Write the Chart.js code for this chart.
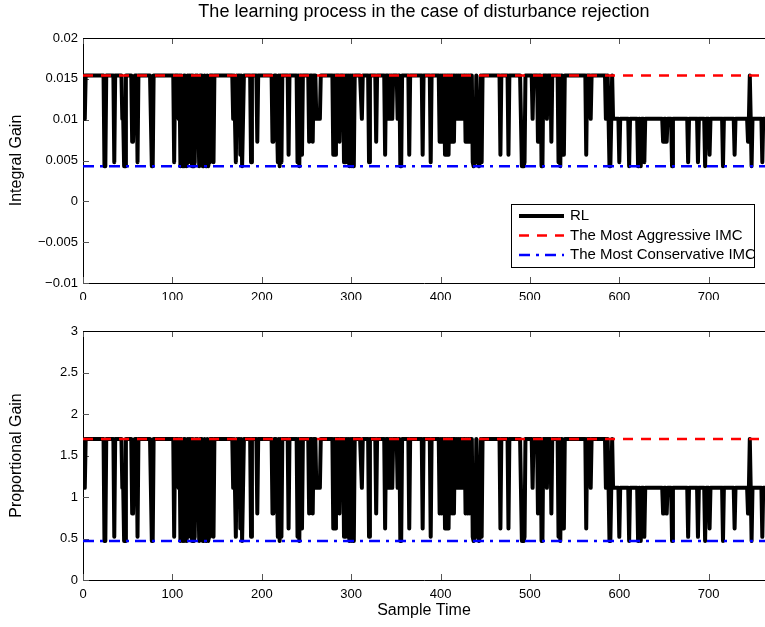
<!DOCTYPE html>
<html>
<head>
<meta charset="utf-8">
<title>The learning process in the case of disturbance rejection</title>
<script src="https://cdn.jsdelivr.net/npm/chart.js@4.4.0/dist/chart.umd.min.js"></script>
<style>
  html, body { margin: 0; padding: 0; background: #fff; }
  #wrap { position: relative; width: 765px; height: 627px; overflow: hidden; }
  canvas { position: absolute; left: 0; }
  #kiChart { top: 0; }
  #kpChart { top: 300px; }
</style>
</head>
<body>
<div id="wrap">
  <canvas id="kiChart" width="765" height="300"></canvas>
  <canvas id="kpChart" width="765" height="327"></canvas>
</div>
<script>
// sample axis
const sampleCount = 765;
const xMax = 763;
const xTicks = [0, 100, 200, 300, 400, 500, 600, 700];

// y ticks of both panels
const kiTicks = [-0.01, -0.005, 0, 0.005, 0.01, 0.015, 0.02];
const kiTickLabels = ['\u22120.01', '\u22120.005', '0', '0.005', '0.01', '0.015', '0.02'];
const kpTicks = [0, 0.5, 1, 1.5, 2, 2.5, 3];
const kpTickLabels = ['0', '0.5', '1', '1.5', '2', '2.5', '3'];

// gain levels the RL agent picks from (0 = most aggressive ... 5 = most conservative)
const kiLevels = [0.0154, 0.0101, 0.0073, 0.0057, 0.0048, 0.0043];
const kpLevels = [1.70, 1.11, 0.80, 0.62, 0.52, 0.47];

// resting level is 0 before this sample, 1 after it
const switchAt = 585;

// samples where the RL gain leaves its resting level, and the level it goes to
const dipAt = [
  1, 2, 24, 25, 35, 44, 45, 46, 47, 55, 56, 57, 61, 77, 78, 102,
  107, 109, 111, 112, 114, 115, 116, 118, 120, 122, 124, 125, 127, 129, 130, 132, 134, 135, 137, 138, 140, 141,
  146, 168, 171, 173, 176, 178, 179, 188,
  195, 212, 213, 218, 220, 222, 230, 240, 242, 245, 253, 257, 261, 262, 263, 264, 265,
  280, 282, 287, 292, 294, 296, 298, 300, 302, 303, 312, 320, 328, 338, 342, 344, 346, 352, 355, 356, 365, 380,
  389, 399, 401, 403, 405, 407, 409, 411, 413, 415, 417, 419, 421, 423, 425, 428, 430, 432,
  436, 437, 438, 439, 441, 442, 443, 444, 446, 467, 476, 491, 492, 493, 494,
  503, 509, 513, 514, 519, 524, 532, 534, 538, 563, 568,
  587, 589, 590, 592, 600, 611, 621, 624, 628, 649, 653, 659, 677, 688, 696, 701, 716, 729,
  744, 746, 748, 760
];
const dipLevel = [
  1, 1, 5, 5, 4, 1, 1, 5, 5, 2, 2, 2, 4, 5, 5, 4,
  1, 5, 4, 5, 5, 1, 5, 4, 1, 5, 5, 4, 1, 1, 5, 1, 5, 5, 4, 5, 5, 4,
  4, 1, 4, 1, 3, 5, 5, 4,
  2, 2, 2, 4, 5, 4, 3, 4, 5, 3, 2, 2, 1, 1, 1, 1, 1,
  3, 3, 2, 4, 4, 4, 5, 5, 5, 5, 1, 4, 2, 3, 1, 1, 1, 1, 5, 5, 3, 3,
  4, 2, 2, 2, 3, 3, 3, 2, 2, 2, 1, 1, 1, 1, 1, 2, 2, 2,
  4, 5, 4, 4, 1, 4, 5, 4, 4, 3, 3, 5, 5, 5, 4,
  1, 2, 5, 5, 1, 2, 4, 5, 3, 3, 1,
  0, 5, 5, 0, 4, 5, 5, 5, 4, 2, 2, 5, 4, 4, 5, 3, 5, 3,
  2, 0, 5, 4
];

// the two IMC reference gains
const aggressiveKi = 0.0154;
const conservativeKi = 0.0043;
const aggressiveKp = 1.70;
const conservativeKp = 0.47;

function rlSeries(levels) {
  const values = [];
  for (let i = 0; i < sampleCount; i++) {
    values.push(levels[i < switchAt ? 0 : 1]);
  }
  dipAt.forEach((s, k) => { values[s] = levels[dipLevel[k]]; });
  return values.map((y, i) => ({ x: i, y }));
}

function flatLine(v) {
  return [{ x: 0, y: v }, { x: xMax, y: v }];
}

Chart.defaults.font.family = '"Liberation Sans", Arial, Helvetica, sans-serif';
Chart.defaults.color = '#000';

// MATLAB style box: top edge plus inward tick marks
const matlabBox = {
  id: 'matlabBox',
  beforeDatasetsDraw(chart) {
    const { ctx, chartArea: a, scales } = chart;
    ctx.save();
    ctx.strokeStyle = '#555';
    ctx.lineWidth = 1;
    ctx.beginPath();
    scales.x.ticks.forEach(t => {
      const px = Math.round(scales.x.getPixelForValue(t.value)) + 0.5;
      ctx.moveTo(px, a.bottom);
      ctx.lineTo(px, a.bottom - 6);
      ctx.moveTo(px, a.top);
      ctx.lineTo(px, a.top + 6);
    });
    scales.y.ticks.forEach(t => {
      const py = Math.round(scales.y.getPixelForValue(t.value)) + 0.5;
      ctx.moveTo(a.left, py);
      ctx.lineTo(a.left + 6, py);
    });
    ctx.stroke();
    ctx.restore();
  },
  afterDraw(chart) {
    const { ctx, chartArea: a } = chart;
    ctx.save();
    ctx.strokeStyle = '#000';
    ctx.lineWidth = 1;
    ctx.beginPath();
    ctx.moveTo(a.left, Math.round(a.top) + 0.5);
    ctx.lineTo(a.right, Math.round(a.top) + 0.5);
    ctx.stroke();
    ctx.restore();
  }
};

// boxed legend inside the upper panel
const boxLegend = {
  id: 'boxLegend',
  afterDraw(chart, args, opts) {
    if (!opts.show) return;
    const { ctx } = chart;
    const { left, top, width, height, firstRow, rowGap } = opts;
    ctx.save();
    ctx.fillStyle = '#fff';
    ctx.fillRect(left, top, width, height);
    ctx.font = '15px "Liberation Sans", Arial, sans-serif';
    ctx.textBaseline = 'middle';
    chart.data.datasets.forEach((ds, i) => {
      const y = top + firstRow + i * rowGap;
      ctx.strokeStyle = ds.borderColor;
      ctx.lineWidth = ds.borderWidth;
      ctx.setLineDash(ds.borderDash || []);
      ctx.beginPath();
      ctx.moveTo(left + 8, y);
      ctx.lineTo(left + 53, y);
      ctx.stroke();
      ctx.setLineDash([]);
      ctx.fillStyle = '#000';
      ctx.fillText(ds.label, left + 59, y);
    });
    ctx.strokeStyle = '#000';
    ctx.lineWidth = 1;
    ctx.strokeRect(left + 0.5, top + 0.5, width, height);
    ctx.restore();
  }
};

function makeDatasets(rl, aggressive, conservative) {
  return [
    {
      label: 'RL',
      data: rl,
      borderColor: '#000',
      borderWidth: 4,
      borderJoinStyle: 'round',
      pointRadius: 0,
      tension: 0,
      order: 3
    },
    {
      label: 'The Most Aggressive IMC',
      data: flatLine(aggressive),
      borderColor: '#ff0000',
      borderWidth: 2.5,
      borderDash: [10, 8],
      pointRadius: 0,
      order: 2
    },
    {
      label: 'The Most Conservative IMC',
      data: flatLine(conservative),
      borderColor: '#0000ff',
      borderWidth: 2.5,
      borderDash: [11, 6, 3, 6],
      pointRadius: 0,
      order: 1
    }
  ];
}

function makeOptions(cfg) {
  return {
    responsive: false,
    animation: false,
    devicePixelRatio: 1,
    layout: { padding: { top: cfg.padTop, left: 0, right: 0, bottom: 0 } },
    plugins: {
      legend: { display: false },
      tooltip: { enabled: false },
      title: { display: false },
      boxLegend: cfg.legend
    },
    scales: {
      // top edge of the panel, carries the figure title centred over the axes
      xTop: {
        type: 'linear',
        position: 'top',
        display: cfg.title.display,
        min: 0,
        max: xMax,
        grid: { display: false, drawTicks: false },
        border: { display: false },
        ticks: { display: false },
        afterFit: s => { s.height = cfg.topHeight; },
        title: cfg.title
      },
      x: {
        type: 'linear',
        min: 0,
        max: xMax,
        grid: { display: false, drawTicks: false },
        border: { display: true, color: '#000', width: 1 },
        ticks: { font: { size: 13 }, padding: 7, maxRotation: 0 },
        afterBuildTicks: s => { s.ticks = xTicks.map(v => ({ value: v })); },
        afterFit: s => { s.height = cfg.xHeight; },
        title: cfg.xTitle
      },
      y: {
        type: 'linear',
        min: cfg.yTicks[0],
        max: cfg.yTicks[cfg.yTicks.length - 1],
        grid: { display: false, drawTicks: false },
        border: { display: true, color: '#000', width: 1 },
        ticks: {
          font: { size: 13 },
          padding: 5,
          callback: (v, i) => cfg.yLabels[i]
        },
        afterBuildTicks: s => { s.ticks = cfg.yTicks.map(v => ({ value: v })); },
        afterFit: s => { s.width = 83; },
        title: {
          display: true,
          text: cfg.yTitle,
          font: { size: 16 },
          padding: { top: 7, bottom: 0 }
        }
      }
    }
  };
}

new Chart(document.getElementById('kiChart'), {
  type: 'line',
  data: { datasets: makeDatasets(rlSeries(kiLevels), aggressiveKi, conservativeKi) },
  options: makeOptions({
    padTop: 0,
    topHeight: 38,
    xHeight: 17,
    yTicks: kiTicks,
    yLabels: kiTickLabels,
    yTitle: 'Integral Gain',
    title: {
      display: true,
      text: 'The learning process in the case of disturbance rejection',
      font: { size: 18 },
      color: '#000',
      padding: { top: 1, bottom: 0 }
    },
    xTitle: { display: false },
    legend: { show: true, left: 511, top: 204, width: 243, height: 63, firstRow: 12, rowGap: 19.5 }
  }),
  plugins: [matlabBox, boxLegend]
});

new Chart(document.getElementById('kpChart'), {
  type: 'line',
  data: { datasets: makeDatasets(rlSeries(kpLevels), aggressiveKp, conservativeKp) },
  options: makeOptions({
    padTop: 31,
    topHeight: 0,
    xHeight: 47,
    yTicks: kpTicks,
    yLabels: kpTickLabels,
    yTitle: 'Proportional Gain',
    title: { display: false },
    xTitle: {
      display: true,
      text: 'Sample Time',
      font: { size: 16 },
      padding: { top: 0, bottom: 7 }
    },
    legend: { show: false }
  }),
  plugins: [matlabBox, boxLegend]
});
</script>
</body>
</html>
